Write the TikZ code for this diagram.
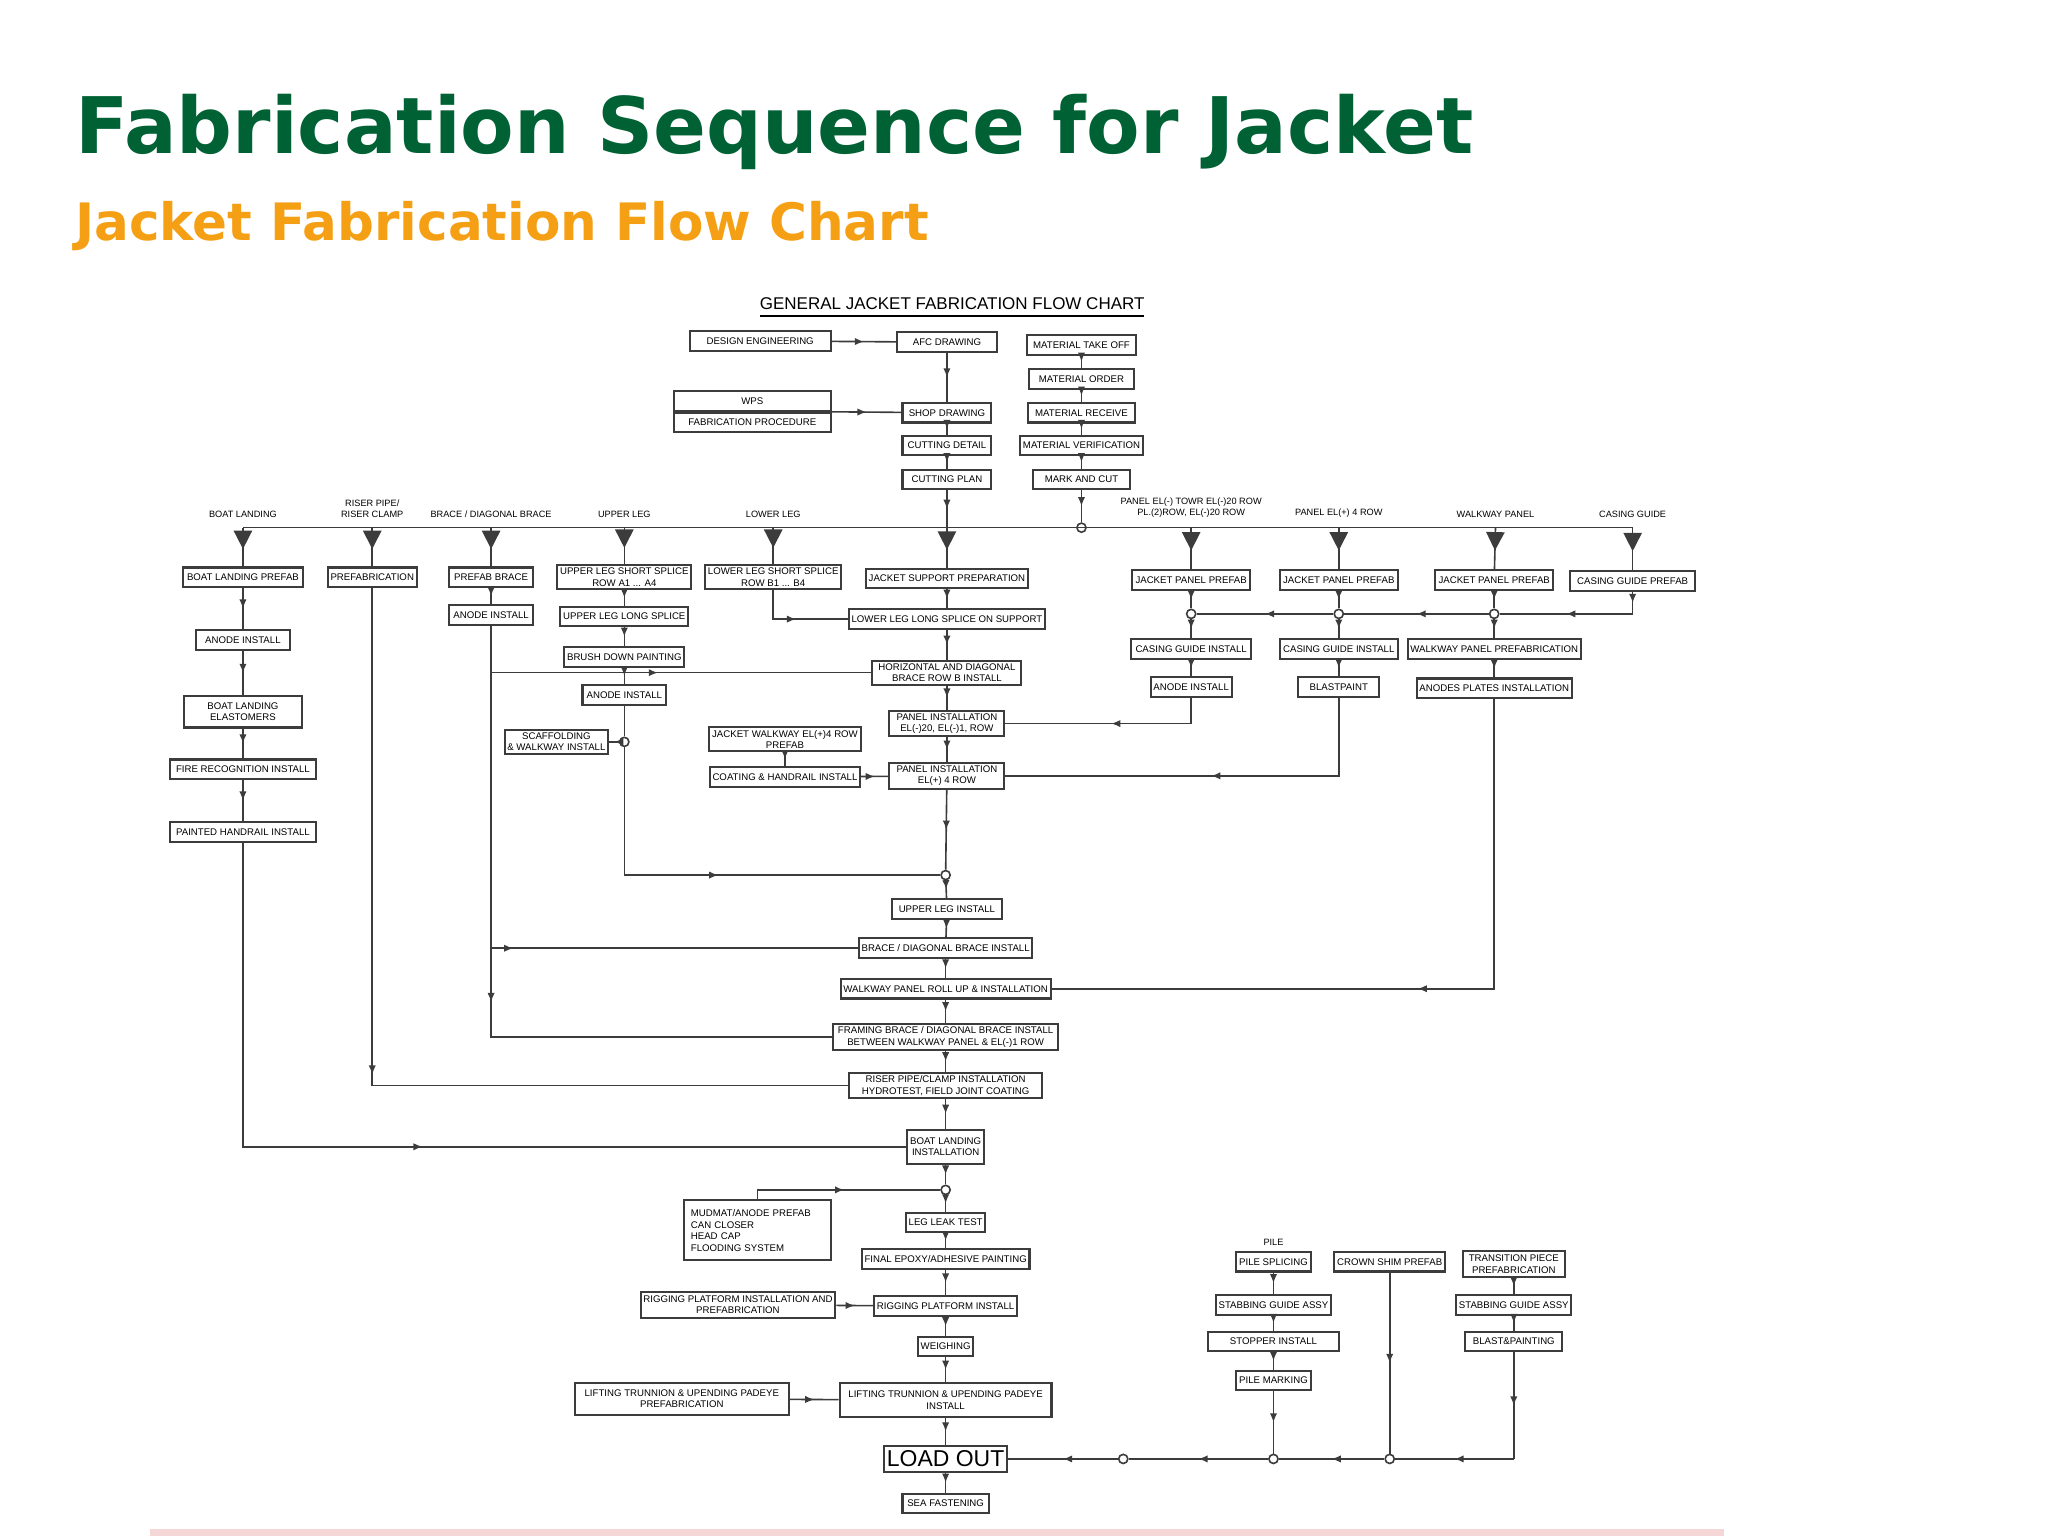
\documentclass[tikz,border=0pt]{standalone}
\usepackage{fontspec}
\setmainfont{Liberation Sans}
\newfontfamily\ttlfont{DejaVu Sans}
\usetikzlibrary{arrows.meta,positioning,decorations.markings}
\definecolor{ttlgreen}{RGB}{0,98,52}
\definecolor{ttlorange}{RGB}{245,160,20}
\definecolor{rulepink}{RGB}{245,215,215}
\definecolor{inkgrey}{RGB}{60,60,60}
\tikzset{
	box/.style={draw=inkgrey,line width=0.45pt,inner sep=0.6pt,minimum height=0.15cm,align=center,
		font=\fontsize{2.1}{2.5}\selectfont},
	lbl/.style={inner sep=0pt,align=center,font=\fontsize{2}{2.4}\selectfont},
	flow/.style={draw=inkgrey,line width=0.35pt,postaction={decorate},
		decoration={markings,mark=at position 0.5 with {\arrow{Latex[length=2pt,width=1.6pt]}}}},
	drop/.style={draw=inkgrey,line width=0.35pt,postaction={decorate},
		decoration={markings,mark=at position 0.55 with {\arrow{Triangle[length=4pt,width=4pt]}}}},
	jn/.style={draw=inkgrey,circle,inner sep=0pt,minimum size=0.07cm,fill=white,line width=0.35pt},
}
\begin{document}
\begin{tikzpicture}[x=0.01cm,y=-0.01cm]
	\useasboundingbox (0,0) rectangle (1568,1176);
	% titles
	\node[anchor=west,inner sep=0pt,text=ttlgreen] (ttl) at (57,101)
		{\resizebox{10.7cm}{!}{\ttlfont\bfseries Fabrication Sequence for Jacket}};
	\node[anchor=west,inner sep=0pt,text=ttlorange] (sub) at (57,173)
		{\resizebox{6.53cm}{!}{\ttlfont\bfseries Jacket Fabrication Flow Chart}};
	\node[inner sep=0pt,font=\fontsize{3.7}{4}\selectfont] (gtl) at (729,236) {\underline{GENERAL JACKET FABRICATION FLOW CHART}};
	\draw[rulepink,line width=1.5pt] (115,1173) -- (1320,1173);
	% top block
	\node[box,minimum width=1.08cm] (de) at (582,261) {DESIGN ENGINEERING};
	\node[box,minimum width=0.76cm] (afc) at (725,262) {AFC DRAWING};
	\node[box,minimum width=0.84cm] (mto) at (828,264) {MATERIAL TAKE OFF};
	\node[box,minimum width=0.80cm] (mo) at (828,290) {MATERIAL ORDER};
	\node[box,minimum width=0.82cm] (mr) at (828,316) {MATERIAL RECEIVE};
	\node[box,minimum width=0.94cm] (mv) at (828,341) {MATERIAL VERIFICATION};
	\node[box,minimum width=0.74cm] (mc) at (828,367) {MARK AND CUT};
	\node[box,minimum width=1.2cm] (wps) at (576,307) {WPS};
	\node[box,minimum width=1.2cm,anchor=north] (fp) at (wps.south) {FABRICATION PROCEDURE};
	\node[box,minimum width=0.68cm] (sd) at (725,316) {SHOP DRAWING};
	\node[box,minimum width=0.68cm] (cd) at (725,341) {CUTTING DETAIL};
	\node[box,minimum width=0.68cm] (cp) at (725,367) {CUTTING PLAN};
	\draw[flow] (de) -- (afc);
	\draw[flow] (afc) -- (sd);
	\draw[flow] (wps.south east) -- (sd);
	\draw[flow] (sd) -- (cd);
	\draw[flow] (cd) -- (cp);
	\draw[flow] (mto) -- (mo);
	\draw[flow] (mo) -- (mr);
	\draw[flow] (mr) -- (mv);
	\draw[flow] (mv) -- (mc);
	% distribution bus
	\coordinate (bBL) at (186,404);
	\coordinate (bRP) at (285,404);
	\coordinate (bBR) at (376,404);
	\coordinate (bUL) at (478,404);
	\coordinate (bLL) at (592,404);
	\coordinate (bJS) at (725,404);
	\coordinate (bP1) at (912,404);
	\coordinate (bP2) at (1025,404);
	\coordinate (bWP) at (1145,404);
	\coordinate (bCG) at (1250,404);
	\node[jn] (jmc) at (828,404) {};
	\draw[draw=inkgrey,line width=0.35pt] (bBL) -- (bCG);
	\draw[flow] (cp) -- (bJS);
	\draw[flow] (mc) -- (jmc);
	\node[lbl,above=2pt of bBL] (lBL) {BOAT LANDING};
	\node[lbl,above=2pt of bRP] (lRP) {RISER PIPE/\\RISER CLAMP};
	\node[lbl,above=2pt of bBR] (lBR) {BRACE / DIAGONAL BRACE};
	\node[lbl,above=2pt of bUL] (lUL) {UPPER LEG};
	\node[lbl,above=2pt of bLL] (lLL) {LOWER LEG};
	\node[lbl,above=2pt of bP1] (lP1) {PANEL EL(-) TOWR EL(-)20 ROW\\PL.(2)ROW, EL(-)20 ROW};
	\node[lbl,above=2pt of bP2] (lP2) {PANEL EL(+) 4 ROW};
	\node[lbl,above=2pt of bWP] (lWP) {WALKWAY PANEL};
	\node[lbl,above=2pt of bCG] (lCG) {CASING GUIDE};
	% boat landing column
	\node[box,minimum width=0.92cm] (bl1) at (186,442) {BOAT LANDING PREFAB};
	\node[box,minimum width=0.72cm] (bl2) at (186,490) {ANODE INSTALL};
	\node[box,minimum width=0.90cm,minimum height=0.24cm] (bl3) at (186,545) {BOAT LANDING\\ELASTOMERS};
	\node[box,minimum width=1.12cm] (bl4) at (186,589) {FIRE RECOGNITION INSTALL};
	\node[box,minimum width=1.12cm] (bl5) at (186,637) {PAINTED HANDRAIL INSTALL};
	\draw[drop] (bBL) -- (bl1);
	\draw[flow] (bl1) -- (bl2);
	\draw[flow] (bl2) -- (bl3);
	\draw[flow] (bl3) -- (bl4);
	\draw[flow] (bl4) -- (bl5);
	% riser column
	\node[box,minimum width=0.68cm] (rp1) at (285,442) {PREFABRICATION};
	\draw[drop] (bRP) -- (rp1);
	% brace column
	\node[box,minimum width=0.64cm] (br1) at (376,442) {PREFAB BRACE};
	\node[box,minimum width=0.64cm] (br2) at (376,471) {ANODE INSTALL};
	\draw[drop] (bBR) -- (br1);
	\draw[flow] (br1) -- (br2);
	% upper leg column
	\node[box,minimum width=0.88cm] (ul1) at (478,442) {UPPER LEG SHORT SPLICE\\ROW A1 ... A4};
	\node[box,minimum width=0.88cm] (ul2) at (478,472) {UPPER LEG LONG SPLICE};
	\node[box,minimum width=0.88cm] (ul3) at (478,503) {BRUSH DOWN PAINTING};
	\node[box,minimum width=0.64cm] (ul4) at (478,532) {ANODE INSTALL};
	\node[box,minimum width=0.70cm] (scf) at (426,568) {SCAFFOLDING\\\& WALKWAY INSTALL};
	\node[jn] (jsc) at (478,568) {};
	\draw[drop] (bUL) -- (ul1);
	\draw[flow] (ul1) -- (ul2);
	\draw[flow] (ul2) -- (ul3);
	\draw[flow] (ul3) -- (ul4);
	\draw[draw=inkgrey,line width=0.35pt] (ul4) -- (jsc);
	\draw[flow] (jsc) -- (scf);
	% lower leg column
	\node[box,minimum width=0.90cm] (ll1) at (592,442) {LOWER LEG SHORT SPLICE\\ROW B1 ... B4};
	\draw[drop] (bLL) -- (ll1);
	% main column
	\node[box,minimum width=1.2cm] (m1) at (725,443) {JACKET SUPPORT PREPARATION};
	\node[box,minimum width=1.46cm] (m2) at (725,474) {LOWER LEG LONG SPLICE ON SUPPORT};
	\node[box,minimum width=1.14cm] (m3) at (725,515) {HORIZONTAL AND DIAGONAL\\BRACE ROW B INSTALL};
	\node[box,minimum width=0.88cm] (m4) at (725,554) {PANEL INSTALLATION\\EL(-)20, EL(-)1, ROW};
	\node[box,minimum width=1.06cm] (wk1) at (601,566) {JACKET WALKWAY EL(+)4 ROW\\PREFAB};
	\node[box,minimum width=1.12cm] (wk2) at (601,595) {COATING \& HANDRAIL INSTALL};
	\node[box,minimum width=0.88cm] (m5) at (725,594) {PANEL INSTALLATION\\EL(+) 4 ROW};
	\node[jn] (jm) at (724,670) {};
	\node[box,minimum width=0.84cm] (m6) at (725,696) {UPPER LEG INSTALL};
	\node[box,minimum width=1.28cm] (m7) at (724,726) {BRACE / DIAGONAL BRACE INSTALL};
	\node[box,minimum width=1.52cm] (m8) at (724,757) {WALKWAY PANEL ROLL UP \& INSTALLATION};
	\node[box,minimum width=1.72cm] (m9) at (724,794) {FRAMING BRACE / DIAGONAL BRACE INSTALL\\BETWEEN WALKWAY PANEL \& EL(-)1 ROW};
	\node[box,minimum width=1.48cm] (m10) at (724,831) {RISER PIPE/CLAMP INSTALLATION\\HYDROTEST, FIELD JOINT COATING};
	\node[box,minimum width=0.54cm,minimum height=0.26cm] (m11) at (724,878) {BOAT LANDING\\INSTALLATION};
	\node[jn] (jb) at (724,911) {};
	\node[box,minimum width=0.60cm] (m12) at (724,936) {LEG LEAK TEST};
	\node[box,minimum width=1.10cm] (m13) at (724,964) {FINAL EPOXY/ADHESIVE PAINTING};
	\node[box,minimum width=1.06cm] (m14) at (724,1000) {RIGGING PLATFORM INSTALL};
	\node[box,minimum width=0.42cm] (m15) at (724,1031) {WEIGHING};
	\node[box,minimum width=1.62cm,minimum height=0.26cm] (m16) at (724,1072) {LIFTING TRUNNION \& UPENDING PADEYE\\INSTALL};
	\node[box,minimum width=0.70cm,minimum height=0.2cm,font=\fontsize{5}{6}\selectfont] (lo) at (724,1117) {LOAD OUT};
	\node[box,minimum width=0.66cm] (sf) at (724,1151) {SEA FASTENING};
	\node[box,minimum width=1.12cm,minimum height=0.46cm,align=left,text width=1.02cm] (mud) at (580,942)
		{MUDMAT/ANODE PREFAB\\CAN CLOSER\\HEAD CAP\\FLOODING SYSTEM};
	\node[box,minimum width=1.44cm,minimum height=0.2cm] (rg) at (565,999) {RIGGING PLATFORM INSTALLATION AND\\PREFABRICATION};
	\node[box,minimum width=1.64cm,minimum height=0.24cm] (lt) at (522,1071) {LIFTING TRUNNION \& UPENDING PADEYE\\PREFABRICATION};
	\draw[drop] (bJS) -- (m1);
	\draw[flow] (m1) -- (m2);
	\draw[flow] (ll1) |- (m2);
	\draw[flow] (m2) -- (m3);
	\draw[flow] (br2) |- (m3);
	\draw[flow] (m3) -- (m4);
	\draw[flow] (m4) -- (m5);
	\draw[flow] (wk1) -- (wk2);
	\draw[flow] (wk2) -- (m5);
	\draw[flow] (m5) -- (jm);
	\draw[flow] (jsc) |- (jm);
	\draw[flow] (jm) -- (m6);
	\draw[flow] (m6) -- (m7);
	\draw[flow] (br2) |- (m7);
	\draw[flow] (m7) -- (m8);
	\draw[flow] (m8) -- (m9);
	\draw[flow] (br2) |- (m9);
	\draw[flow] (m9) -- (m10);
	\draw[flow] (rp1) |- (m10);
	\draw[flow] (m10) -- (m11);
	\draw[flow] (bl5) |- (m11);
	\draw[flow] (m11) -- (jb);
	\draw[flow] (mud.north) |- (jb);
	\draw[flow] (jb) -- (m12);
	\draw[flow] (m12) -- (m13);
	\draw[flow] (m13) -- (m14);
	\draw[flow] (rg) -- (m14);
	\draw[flow] (m14) -- (m15);
	\draw[flow] (m15) -- (m16);
	\draw[flow] (lt) -- (m16);
	\draw[flow] (m16) -- (lo);
	\draw[flow] (lo) -- (sf);
	% panel columns
	\node[box,minimum width=0.90cm] (p1) at (912,444) {JACKET PANEL PREFAB};
	\node[box,minimum width=0.90cm] (p2) at (1025,444) {JACKET PANEL PREFAB};
	\node[box,minimum width=0.90cm] (p3) at (1144,444) {JACKET PANEL PREFAB};
	\node[box,minimum width=0.96cm] (p4) at (1250,445) {CASING GUIDE PREFAB};
	\node[jn] (jp1) at (912,470) {};
	\node[jn] (jp2) at (1025,470) {};
	\node[jn] (jp3) at (1144,470) {};
	\coordinate (jp4) at (1250,470);
	\node[box,minimum width=0.92cm] (q1) at (912,497) {CASING GUIDE INSTALL};
	\node[box,minimum width=0.62cm] (r1) at (912,526) {ANODE INSTALL};
	\node[box,minimum width=0.90cm] (q2) at (1025,497) {CASING GUIDE INSTALL};
	\node[box,minimum width=0.62cm] (r2) at (1025,526) {BLASTPAINT};
	\node[box,minimum width=1.26cm] (q3) at (1144,497) {WALKWAY PANEL PREFABRICATION};
	\node[box,minimum width=1.18cm] (r3) at (1144,527) {ANODES PLATES INSTALLATION};
	\draw[drop] (bP1) -- (p1);
	\draw[drop] (bP2) -- (p2);
	\draw[drop] (bWP) -- (p3);
	\draw[drop] (bCG) -- (p4);
	\draw[flow] (p1) -- (jp1);
	\draw[flow] (p2) -- (jp2);
	\draw[flow] (p3) -- (jp3);
	\draw[flow] (p4) -- (jp4);
	\draw[flow] (jp4) -- (jp3);
	\draw[flow] (jp3) -- (jp2);
	\draw[flow] (jp2) -- (jp1);
	\draw[flow] (jp1) -- (q1);
	\draw[flow] (jp2) -- (q2);
	\draw[flow] (jp3) -- (q3);
	\draw[flow] (q1) -- (r1);
	\draw[flow] (q2) -- (r2);
	\draw[flow] (q3) -- (r3);
	\draw[flow] (r1) |- (m4);
	\draw[flow] (r2) |- (m5);
	\draw[flow] (r3) |- (m8);
	% pile and transition piece
	\node[box,minimum width=0.58cm] (pl1) at (975,966) {PILE SPLICING};
	\node[lbl,above=1pt of pl1] (lpl) {PILE};
	\node[box,minimum width=0.88cm] (pl2) at (975,999) {STABBING GUIDE ASSY};
	\node[box,minimum width=1.00cm] (pl3) at (975,1027) {STOPPER INSTALL};
	\node[box,minimum width=0.58cm] (pl4) at (975,1057) {PILE MARKING};
	\node[box,minimum width=0.84cm] (cs) at (1064,966) {CROWN SHIM PREFAB};
	\node[box,minimum width=0.78cm,minimum height=0.2cm] (tp1) at (1159,968) {TRANSITION PIECE\\PREFABRICATION};
	\node[box,minimum width=0.88cm] (tp2) at (1159,999) {STABBING GUIDE ASSY};
	\node[box,minimum width=0.74cm] (tp3) at (1159,1027) {BLAST\&PAINTING};
	\node[jn] (jl1) at (860,1117) {};
	\node[jn] (jl2) at (975,1117) {};
	\node[jn] (jl3) at (1064,1117) {};
	\coordinate (jl4) at (1159,1117);
	\draw[flow] (pl1) -- (pl2);
	\draw[flow] (pl2) -- (pl3);
	\draw[flow] (pl3) -- (pl4);
	\draw[flow] (tp1) -- (tp2);
	\draw[flow] (tp2) -- (tp3);
	\draw[flow] (pl4) -- (jl2);
	\draw[flow] (cs) -- (jl3);
	\draw[flow] (tp3) -- (jl4);
	\draw[flow] (jl4) -- (jl3);
	\draw[flow] (jl3) -- (jl2);
	\draw[flow] (jl2) -- (jl1);
	\draw[flow] (jl1) -- (lo);
\end{tikzpicture}
\end{document}
